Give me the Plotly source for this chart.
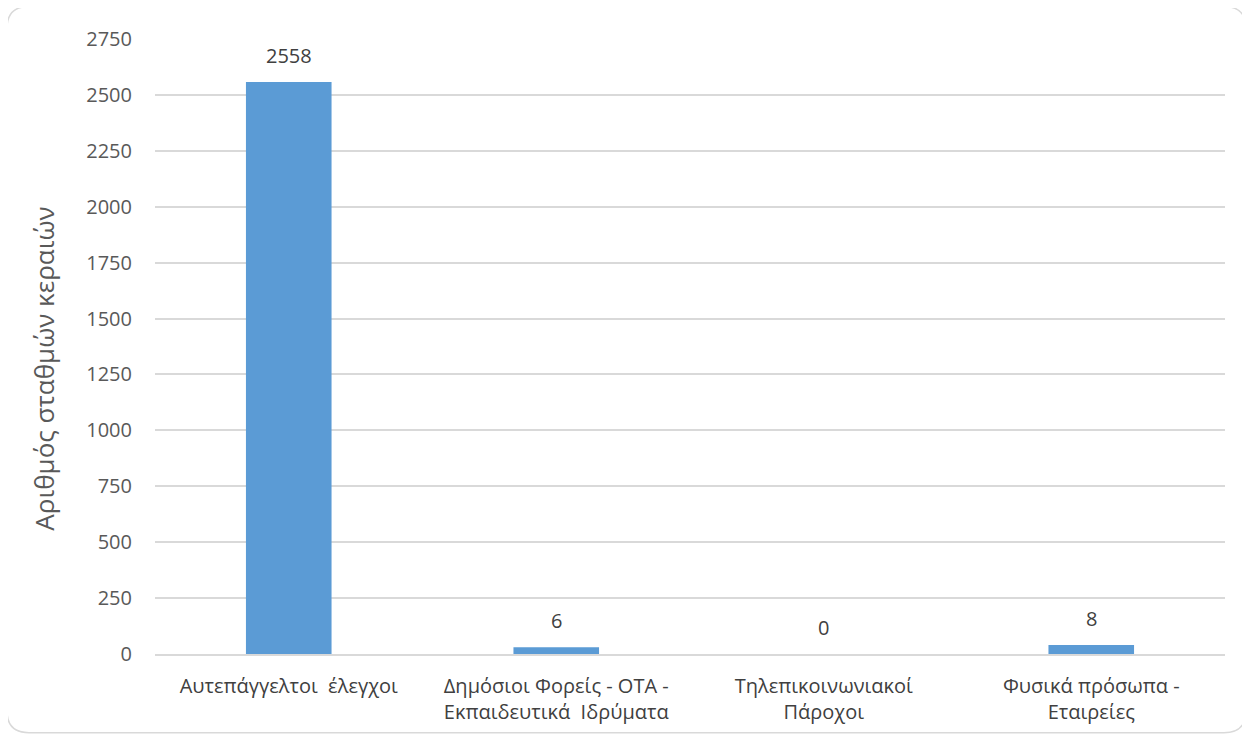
import plotly.graph_objects as go

categories = ["Αυτεπάγγελτοι  έλεγχοι",
              "Δημόσιοι Φορείς - ΟΤΑ -<br>Εκπαιδευτικά  Ιδρύματα",
              "Τηλεπικοινωνιακοί<br>Πάροχοι",
              "Φυσικά πρόσωπα -<br>Εταιρείες"]
bar_heights = [2558, 30, 0, 40]
value_labels = ["2558", "6", "0", "8"]
y_ticks = [0, 250, 500, 750, 1000, 1250, 1500, 1750, 2000, 2250, 2500, 2750]
y_title = "Αριθμός σταθμών κεραιών"

OFF = 8  # default body margin of the html page
W, H = 1250 - 2 * OFF, 745 - 2 * OFF
L, R, T, B = 155 - OFF, 1250 - 1225 - OFF, 39 - OFF, 745 - 660 - OFF - 4
pw, ph = W - L - R, H - T - B

FONT = "Open Sans, DejaVu Sans"

fig = go.Figure()
fig.add_trace(go.Bar(x=categories, y=bar_heights, marker=dict(color="#5b9bd5", line=dict(width=0)),
                     width=0.32, hoverinfo="x+y"))

for c, v, t in zip(categories, bar_heights, value_labels):
    fig.add_annotation(x=c, y=v, text=t, showarrow=False, yanchor="bottom", yshift=11,
                       font=dict(family=FONT, size=20, color="#404040"))

# page pixel coords -> paper coords
def px(x):
    return (x - OFF - L) / pw
def py(y):
    return (H - B - (y - OFF)) / ph

fig.add_annotation(x=px(44), y=py(374), xref="paper", yref="paper", text=y_title, textangle=-90,
                   showarrow=False, xanchor="center", yanchor="middle",
                   font=dict(family=FONT, size=26, color="#595959"))

x0, x1, y0, y1, r = 7, 1246, 6, 744, 22
path = (f"M {px(x0+r)},{py(y0)} L {px(x1-r)},{py(y0)} Q {px(x1)},{py(y0)} {px(x1)},{py(y0+r)} "
        f"L {px(x1)},{py(y1-r)} Q {px(x1)},{py(y1)} {px(x1-r)},{py(y1)} "
        f"L {px(x0+r)},{py(y1)} Q {px(x0)},{py(y1)} {px(x0)},{py(y1-r)} "
        f"L {px(x0)},{py(y0+r)} Q {px(x0)},{py(y0)} {px(x0+r)},{py(y0)} Z")
fig.add_shape(type="path", path=path, xref="paper", yref="paper",
              line=dict(color="#d9d9d9", width=1.5), layer="below")

fig.update_layout(
    width=W, height=H,
    margin=dict(l=L, r=R, t=T, b=B),
    paper_bgcolor="white", plot_bgcolor="white",
    showlegend=False,
    font=dict(family=FONT, color="#595959"),
    xaxis=dict(showgrid=False, showline=True, linecolor="#d9d9d9", linewidth=1.5,
               ticks="", tickfont=dict(size=20, color="#404040"), ticklabelstandoff=13),
    yaxis=dict(range=[0, 2750], tickvals=y_ticks, showgrid=True, gridcolor="#d9d9d9", gridwidth=1.5,
               zeroline=False, ticks="", tickfont=dict(size=20, color="#595959"), ticklabelstandoff=22),
)

fig.write_html("out.html")
